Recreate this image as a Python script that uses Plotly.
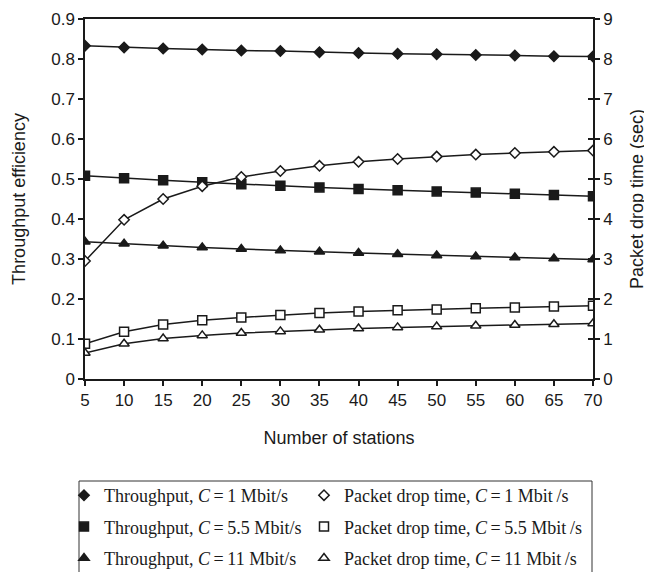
import plotly.graph_objects as go

stations = [5, 10, 15, 20, 25, 30, 35, 40, 45, 50, 55, 60, 65, 70]

thr_1 = [0.833, 0.829, 0.826, 0.824, 0.821, 0.820, 0.817, 0.815, 0.813, 0.812, 0.810, 0.809, 0.807, 0.806]
thr_55 = [0.508, 0.502, 0.497, 0.492, 0.487, 0.483, 0.479, 0.475, 0.472, 0.469, 0.466, 0.463, 0.460, 0.457]
thr_11 = [0.343, 0.338, 0.333, 0.329, 0.325, 0.321, 0.318, 0.315, 0.312, 0.309, 0.306, 0.304, 0.301, 0.299]

pdt_1 = [2.95, 3.98, 4.50, 4.82, 5.05, 5.20, 5.33, 5.43, 5.50, 5.56, 5.61, 5.65, 5.68, 5.71]
pdt_55 = [0.88, 1.18, 1.36, 1.47, 1.54, 1.60, 1.65, 1.69, 1.72, 1.74, 1.77, 1.79, 1.81, 1.83]
pdt_11 = [0.65, 0.88, 1.01, 1.09, 1.15, 1.19, 1.23, 1.26, 1.29, 1.31, 1.33, 1.35, 1.37, 1.39]

T = "\u2009=\u2009"
thr_names = [f"Throughput, <i>C</i>{T}1 Mbit/s",
             f"Throughput, <i>C</i>{T}5.5 Mbit/s",
             f"Throughput, <i>C</i>{T}11 Mbit/s"]
pdt_names = [f"Packet drop time, <i>C</i>{T}1 Mbit\u2009/s",
             f"Packet drop time, <i>C</i>{T}5.5 Mbit\u2009/s",
             f"Packet drop time, <i>C</i>{T}11 Mbit\u2009/s"]

INK = "#1a1a1a"
symbols = ["diamond", "square", "triangle-up"]
sizes = [8, 9, 9]

fig = go.Figure()

def add_series(vals, ax, sym, size, filled, name, legend, group):
    # connecting line
    fig.add_trace(go.Scatter(x=stations, y=vals, yaxis=ax, mode="lines",
                             line=dict(color=INK, width=1.5),
                             showlegend=False, hoverinfo="skip"))
    # markers (shown in legend)
    fig.add_trace(go.Scatter(x=stations, y=vals, yaxis=ax, mode="markers", name=name,
                             legend=legend, legendgroup=group,
                             marker=dict(symbol=sym, size=size,
                                         color=INK if filled else "white",
                                         line=dict(color=INK, width=1.5))))

thr = [thr_1, thr_55, thr_11]
pdt = [pdt_1, pdt_55, pdt_11]
for i in range(3):
    add_series(thr[i], "y", symbols[i], sizes[i], True, thr_names[i], "legend", f"t{i}")
for i in range(3):
    add_series(pdt[i], "y2", symbols[i], sizes[i], False, pdt_names[i], "legend2", f"p{i}")

# dummy trace so the inner tick marks of the right axis are drawn
fig.add_trace(go.Scatter(x=[None], y=[None], yaxis="y3", showlegend=False, hoverinfo="skip"))

tickfont = dict(family="Liberation Sans, Arial, sans-serif", size=17, color=INK)
titlefont = dict(family="Liberation Sans, Arial, sans-serif", size=18, color=INK)
legfont = dict(family="Liberation Serif, Times New Roman, serif", size=18, color=INK)

# page body has an 8px margin, so figure pixels = screen pixels - 8
W, H = 644, 564
L, R, TOP, BOT = 77, 585, 11, 371
PW, PH = R - L, BOT - TOP
def px(xp):
    return (xp - L) / PW
def py(yp):
    return (BOT - yp) / PH

leg_common = dict(orientation="v", xanchor="left", yanchor="top", borderwidth=0,
                  bgcolor="rgba(0,0,0,0)", font=legfont, itemwidth=30,
                  indentation=-12, tracegroupgap=5)

fig.update_layout(
    width=W, height=H,
    margin=dict(l=L, r=W - R, t=TOP, b=H - BOT, autoexpand=False),
    paper_bgcolor="white", plot_bgcolor="white",
    font=tickfont,
    xaxis=dict(range=[5, 70], tickvals=stations, ticks="outside", ticklen=5,
               tickcolor=INK, tickwidth=1.5,
               showline=True, linecolor=INK, linewidth=1.5, mirror=True,
               showgrid=False, zeroline=False, tickfont=tickfont, automargin=False,
               title=dict(text="Number of stations", font=titlefont, standoff=22)),
    yaxis=dict(range=[0, 0.9], dtick=0.1, ticks="outside", ticklen=5,
               tickcolor=INK, tickwidth=1.5, tickformat=".1~f",
               showline=True, linecolor=INK, linewidth=1.5,
               showgrid=False, zeroline=False, tickfont=tickfont, automargin=False,
               title=dict(text="Throughput efficiency", font=titlefont, standoff=21)),
    yaxis2=dict(range=[0, 9], dtick=1, overlaying="y", side="right",
                ticks="outside", ticklen=5, tickcolor=INK, tickwidth=1.5,
                showline=True, linecolor=INK, linewidth=1.5,
                showgrid=False, zeroline=False, tickfont=tickfont, automargin=False,
                title=dict(text="Packet drop time (sec)", font=titlefont, standoff=19)),
    yaxis3=dict(range=[0, 9], dtick=1, overlaying="y", side="right", anchor="x",
                ticks="inside", ticklen=5, tickcolor=INK, tickwidth=1.5,
                showticklabels=False, automargin=False,
                showline=False, showgrid=False, zeroline=False),
    legend=dict(x=px(68), y=py(469), **leg_common),
    legend2=dict(x=px(308), y=py(469), **leg_common),
    shapes=[dict(type="rect", xref="paper", yref="paper",
                 x0=px(71), x1=px(584), y0=py(473), y1=py(600),
                 line=dict(color="#333", width=1), fillcolor="rgba(0,0,0,0)",
                 layer="below")],
)

fig.write_html("out.html")
